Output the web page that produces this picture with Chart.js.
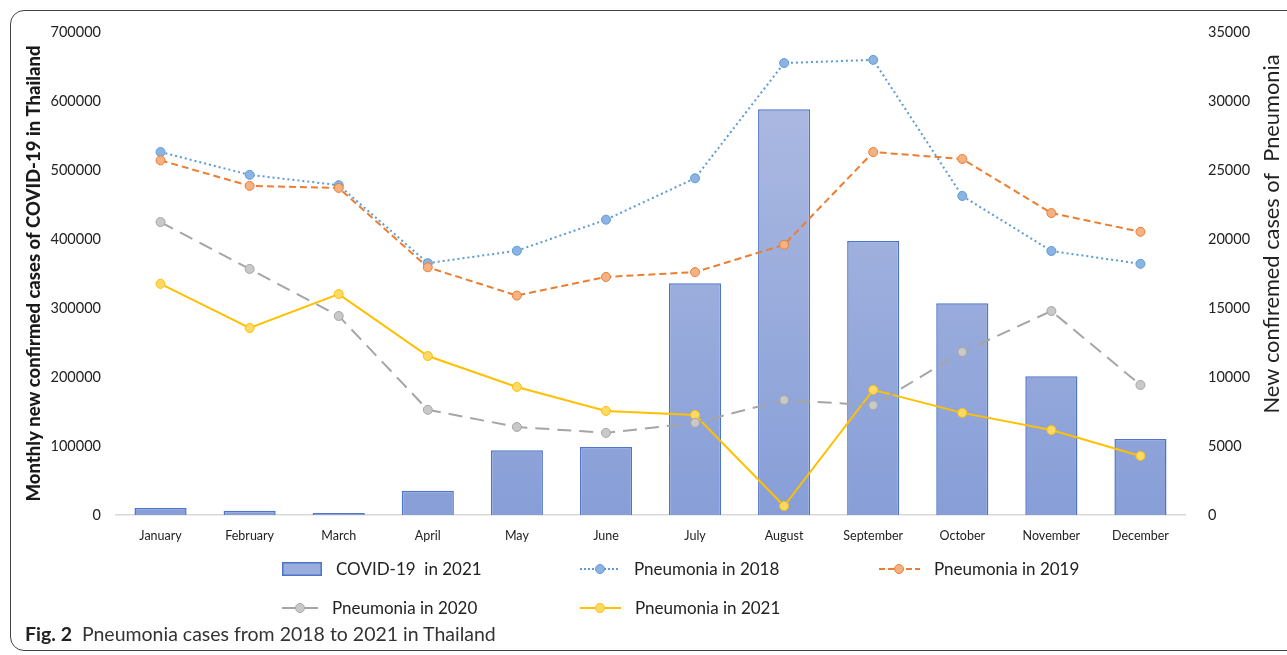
<!DOCTYPE html>
<html>
<head>
<meta charset="utf-8">
<script src="https://cdn.jsdelivr.net/npm/chart.js@4.4.0/dist/chart.umd.min.js"></script>
<style>
  body { margin: 0; background: #fff; font-family: Lato, sans-serif; color: #222; }
  #wrap { position: relative; width: 1287px; height: 655px; overflow: hidden; }
  #frame { position: absolute; left: 10px; top: 10px; width: 1320px; height: 641px;
    border: 1.5px solid #444; border-radius: 14px; box-sizing: border-box; }
  #chart { position: absolute; left: 0; top: 0; }
  .leg { position: absolute; font-size: 17px; color: #222; display: flex; align-items: center; white-space: pre; }
  .leg svg { margin-right: 14px; }
  #caption { position: absolute; left: 25px; top: 622px; font-size: 19.5px; color: #333; white-space: pre; }
  #caption b { color: #222; }
</style>
</head>
<body>
<div id="wrap">
  <div id="frame"></div>
  <canvas id="chart" width="1287" height="655"></canvas>

  <div class="leg" style="left:282px; top:558px;">
    <svg width="40" height="14"><rect x="0.75" y="0.75" width="38.5" height="12.5" fill="#9aaede" stroke="#4f75c8" stroke-width="1.5"/></svg>COVID-19  in 2021</div>
  <div class="leg" style="left:580px; top:558px;">
    <svg width="40" height="14"><line x1="0" y1="7" x2="40" y2="7" stroke="#5b9bd5" stroke-width="2" stroke-dasharray="2,2"/><circle cx="20" cy="7" r="4.5" fill="#8db3e2" stroke="#5b9bd5"/></svg>Pneumonia in 2018</div>
  <div class="leg" style="left:879px; top:558px;">
    <svg width="41" height="14"><line x1="0" y1="7" x2="41" y2="7" stroke="#ed7d31" stroke-width="2" stroke-dasharray="6,3"/><circle cx="20" cy="7" r="4.5" fill="#f4b183" stroke="#ed7d31"/></svg>Pneumonia in 2019</div>
  <div class="leg" style="left:282px; top:597px;">
    <svg width="36" height="14"><line x1="0" y1="7" x2="36" y2="7" stroke="#a5a5a5" stroke-width="2"/><circle cx="18" cy="7" r="4.5" fill="#c9c9c9" stroke="#a5a5a5"/></svg>Pneumonia in 2020</div>
  <div class="leg" style="left:580px; top:597px;">
    <svg width="41" height="14"><line x1="0" y1="7" x2="41" y2="7" stroke="#ffc000" stroke-width="2"/><circle cx="20" cy="7" r="4.5" fill="#ffd966" stroke="#ffc000"/></svg>Pneumonia in 2021</div>

  <div id="caption"><b>Fig. 2</b>  Pneumonia cases from 2018 to 2021 in Thailand</div>
</div>

<script>
// Data
const months = ['January', 'February', 'March', 'April', 'May', 'June', 'July',
  'August', 'September', 'October', 'November', 'December']
const covid2021 = [10000, 6000, 3000, 35000, 94000, 98500, 336000, 588000, 397000, 307000, 201000, 110000]
const pneu2018 = [26300, 24650, 23900, 18250, 19150, 21400, 24400, 32750, 32980, 23120, 19130, 18200]
const pneu2019 = [25700, 23850, 23700, 17950, 15900, 17250, 17600, 19580, 26300, 25800, 21880, 20520]
const pneu2020 = [21230, 17830, 14420, 7620, 6380, 5950, 6680, 8330, 7950, 11810, 14780, 9420]
const pneu2021 = [16750, 13550, 16010, 11520, 9280, 7540, 7250, 650, 9070, 7400, 6160, 4280]
const leftTicks = [0, 700000, 100000]   // min, max, step
const rightTicks = [0, 35000, 5000]

const FONT = 'Lato'

// Bar fill: light at top, a bit deeper at the bottom
function barFill(ctx) {
  const { chart } = ctx
  const area = chart.chartArea
  if (!area) return '#9aaede'
  const g = chart.ctx.createLinearGradient(0, area.top + 80, 0, area.bottom)
  g.addColorStop(0, '#aab8e1')
  g.addColorStop(1, '#879ed7')
  return g
}

// Right axis title reads bottom-to-top, so draw it by hand
const rightTitle = {
  id: 'rightTitle',
  afterDraw(chart) {
    const { ctx } = chart
    ctx.save()
    ctx.translate(1272, 234)
    ctx.rotate(-Math.PI / 2)
    ctx.font = `21.8px ${FONT}`
    ctx.fillStyle = '#222'
    ctx.textAlign = 'center'
    ctx.textBaseline = 'middle'
    ctx.fillText('New confiremed cases of  Pneumonia', 0, 0)
    ctx.restore()
  },
}

function lineSet(label, data, color, fill, dash) {
  return {
    type: 'line',
    label,
    data,
    yAxisID: 'y1',
    borderColor: color,
    borderWidth: 2,
    borderDash: dash,
    pointRadius: 4.5,
    pointBorderWidth: 1,
    pointBackgroundColor: fill,
    pointBorderColor: color,
    tension: 0,
    order: 1,
  }
}

const plain = (v) => String(v)

new Chart(document.getElementById('chart'), {
  type: 'bar',
  data: {
    labels: months,
    datasets: [
      lineSet('Pneumonia in 2020', pneu2020, '#a5a5a5', '#c9c9c9', [14, 8]),
      lineSet('Pneumonia in 2021', pneu2021, '#ffc000', '#ffd966', []),
      lineSet('Pneumonia in 2019', pneu2019, '#ed7d31', '#f4b183', [7, 4]),
      lineSet('Pneumonia in 2018', pneu2018, '#5b9bd5', '#8db3e2', [2, 3]),
      {
        label: 'COVID-19  in 2021',
        data: covid2021,
        yAxisID: 'y',
        backgroundColor: barFill,
        borderColor: '#4f75c8',
        borderWidth: 1.5,
        categoryPercentage: 1,
        barPercentage: 0.585,
        order: 10,
      },
    ],
  },
  options: {
    responsive: false,
    animation: false,
    layout: { padding: { top: 32, left: 0, right: 0, bottom: 0 } },
    plugins: { legend: { display: false }, tooltip: { enabled: false } },
    scales: {
      x: {
        grid: { display: false },
        border: { color: '#d9d9d9', width: 1.5 },
        ticks: { font: { family: FONT, size: 12.5 }, color: '#222', padding: 5, maxRotation: 0 },
        afterFit(scale) { scale.height = 140 },
      },
      y: {
        position: 'left',
        min: leftTicks[0],
        max: leftTicks[1],
        ticks: { stepSize: leftTicks[2], callback: plain, font: { family: FONT, size: 14.5 }, color: '#222', padding: 7 },
        grid: { display: false },
        border: { display: false },
        title: {
          display: true,
          text: 'Monthly new confirmed cases of COVID-19 in Thailand',
          font: { family: FONT, size: 18.5, weight: '900' },
          color: '#1a1a1a',
          padding: { top: 23, bottom: 0 },
        },
        afterFit(scale) { scale.width = 116 },
      },
      y1: {
        position: 'right',
        min: rightTicks[0],
        max: rightTicks[1],
        ticks: { stepSize: rightTicks[2], callback: plain, font: { family: FONT, size: 14.5 }, color: '#222', padding: 15 },
        grid: { display: false },
        border: { display: false },
        afterFit(scale) { scale.width = 102 },
      },
    },
  },
  plugins: [rightTitle],
})
</script>
</body>
</html>
